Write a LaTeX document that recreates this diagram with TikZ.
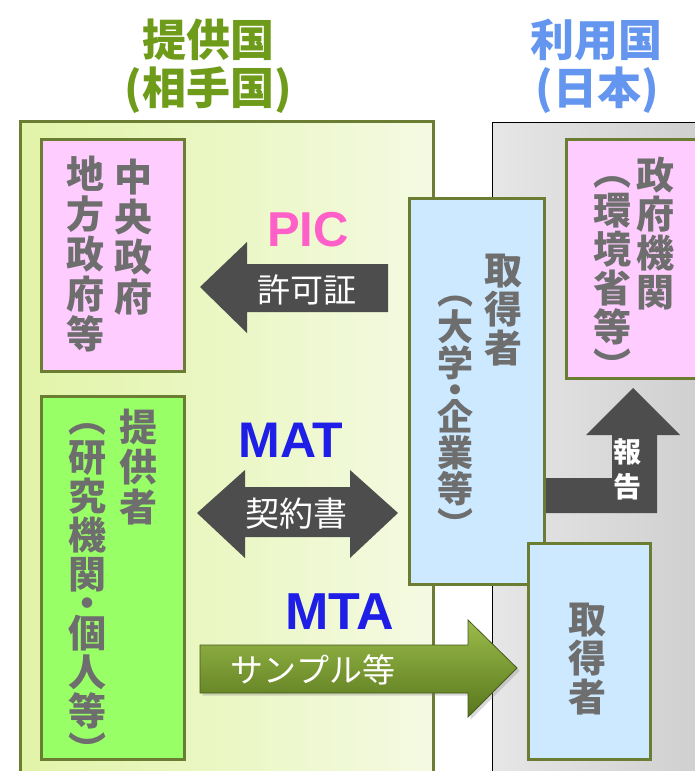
\documentclass[tikz,border=0pt]{standalone}
\usepackage{fontspec}
\setmainfont{Noto Sans CJK JP}
\newfontfamily\latinb{Liberation Sans}
\usetikzlibrary{shadows}
\definecolor{bordergreen}{RGB}{107,125,50}
\definecolor{textgray}{RGB}{110,110,110}
\definecolor{pinkc}{RGB}{255,204,255}
\definecolor{greenc}{RGB}{153,255,102}
\definecolor{bluec}{RGB}{204,233,255}
\definecolor{arrowgray}{RGB}{77,77,77}
\definecolor{titlegreen}{RGB}{110,155,25}
\definecolor{titleblue}{RGB}{100,150,240}
\definecolor{picpink}{RGB}{255,95,200}
\definecolor{matblue}{RGB}{30,30,230}
\definecolor{paneltl}{RGB}{226,244,168}
\definecolor{paneltr}{RGB}{244,250,226}
\definecolor{grayl}{RGB}{230,230,230}
\definecolor{grayr}{RGB}{205,205,205}
\definecolor{mtatop}{RGB}{155,188,75}
\definecolor{mtabot}{RGB}{88,118,28}
\definecolor{mtaline}{RGB}{70,90,30}
\newcommand\vstr{\rule[-.12em]{0pt}{1em}}
\setlength{\lineskiplimit}{-100pt}
\begin{document}
\begin{tikzpicture}[x=1pt,y=-1pt,
  box/.style={draw=bordergreen, line width=3pt, anchor=north west, inner sep=0pt},
  vt/.style 2 args={text=textgray, font={\bfseries\fontsize{#1}{#2}\selectfont}, align=center, inner sep=0pt},
  wt/.style={text=white, font={\fontsize{#1}{#1}\selectfont}, inner sep=0pt},
  title/.style={font={\bfseries\fontsize{44}{44}\selectfont}, inner sep=0pt},
  latin/.style={font={\latinb\bfseries\fontsize{#1}{#1}\selectfont}, inner sep=0pt}]
\useasboundingbox (0,0) rectangle (695,771);
\clip (0,0) rectangle (695,771);
\fill[white] (0,0) rectangle (695,771);
% titles
\node[title, text=titlegreen] (tA) at (208,40) {提供国};
\node[title, text=titlegreen] (tB) at (208,90) {(相手国)};
\node[title, text=titleblue] (tC) at (596,40) {利用国};
\node[title, text=titleblue] (tD) at (597,90) {(日本)};
% panels
\node[draw=bordergreen, line width=3pt, left color=paneltl, right color=paneltr, anchor=north west, minimum width=413pt, minimum height=680pt, inner sep=0pt] (provider) at (19,120) {};
\node[draw=black, line width=0.8pt, left color=grayl, right color=grayr, anchor=north west, minimum width=230pt, minimum height=680pt, inner sep=0pt] (user) at (492,122) {};
% boxes
\node[box, fill=pinkc, minimum width=143pt, minimum height=232pt] (gov1) at (40,138) {};
\node[box, fill=greenc, minimum width=143pt, minimum height=363pt] (prov) at (40,395) {};
\node[box, fill=bluec, minimum width=135pt, minimum height=386pt] (acq1) at (408,197) {};
\node[box, fill=pinkc, minimum width=155pt, minimum height=239pt] (gov2) at (565,138) {};
\node[box, fill=bluec, minimum width=122pt, minimum height=216pt] (acq2) at (527,542) {};
% arrows
\fill[arrowgray] (200,287) coordinate (picTip) -- (247,242) -- (247,264) -- (388,264) -- (388,312) -- (247,312) -- (247,333) -- cycle;
\fill[arrowgray] (197,513) coordinate (matL) -- (245,470) -- (245,487) -- (350,487) -- (350,470) -- (398,513) coordinate (matR) -- (350,558) -- (350,537) -- (245,537) -- (245,558) -- cycle;
\fill[arrowgray] (acq1.east |- 0,478) -- (612,478) -- (612,435) -- (586,435) -- (633,388) coordinate (repTip) -- (680,435) -- (657,435) -- (657,513) -- (acq1.east |- 0,513) -- cycle;
\path[draw=mtaline, line width=0.8pt, top color=mtatop, bottom color=mtabot, drop shadow={opacity=0.3}] (200,645) -- (468,645) -- (468,620) -- (517,668) coordinate (mtaTip) -- (468,717) -- (468,693) -- (200,693) -- cycle;
% vertical texts
\node[vt={38}{40}] (g1a) at (133,237) {\vstr 中\\央\\政\\府\vstr};
\node[vt={38}{40}] (g1b) at (85,254) {\vstr 地\\方\\政\\府\\等\vstr};
\node[vt={38}{40}] (p1a) at (138,467) {\vstr 提\\供\\者\vstr};
\node[vt={38}{39}] (p1b) at (87,584) {\vstr ︵\\研\\究\\機\\関\\[-9.75pt]・\\[-9.75pt]個\\人\\等\\︶\vstr};
\node[vt={38}{39}] (a1a) at (503,309) {\vstr 取\\得\\者\vstr};
\node[vt={36}{36}] (a1b) at (455,408) {\vstr ︵\\大\\学\\[-9pt]・\\[-9pt]企\\業\\等\\︶\vstr};
\node[vt={38}{39}] (g2a) at (655,233.5) {\vstr 政\\府\\機\\関\vstr};
\node[vt={38}{39}] (g2b) at (612,268.5) {\vstr ︵\\環\\境\\省\\等\\︶\vstr};
\node[vt={38}{39}] (a2a) at (587,658) {\vstr 取\\得\\者\vstr};
\node[text=white, font={\bfseries\fontsize{28}{35}\selectfont}, align=center, inner sep=0pt] (rep) at (627,469.5) {\vstr 報\\告\vstr};
% arrow labels
\node[latin=49, text=picpink] (pic) at (308,230) {PIC};
\node[wt=33] (picT) at (307,290) {許可証};
\node[latin=50, text=matblue] (mat) at (291,440) {MAT};
\node[wt=34] (matT) at (296,514) {契約書};
\node[latin=52, text=matblue] (mta) at (340,612) {MTA};
\node[wt=33] (mtaT) at (313,670) {サンプル等};
\end{tikzpicture}
\end{document}
